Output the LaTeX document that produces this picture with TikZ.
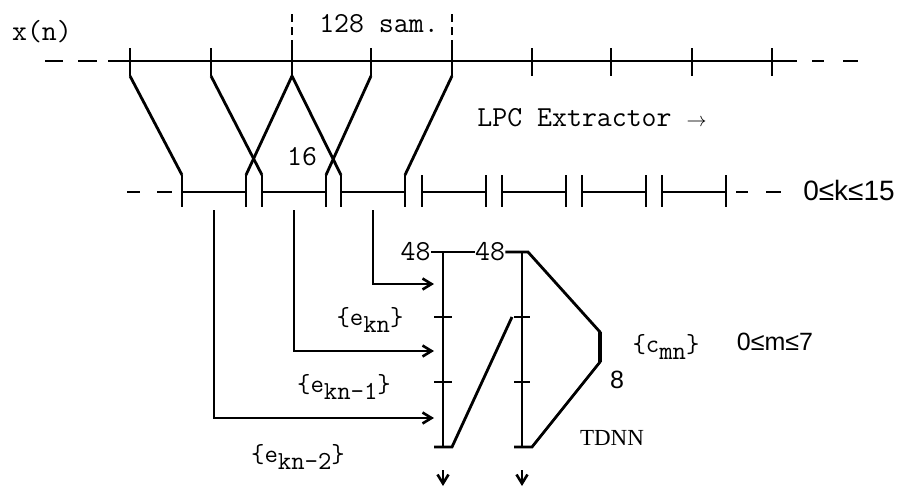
\documentclass[tikz,border=0pt]{standalone}
\usepackage{fontspec}
\setmainfont{Liberation Serif}
\setsansfont{Liberation Sans}
\usetikzlibrary{arrows.meta}

\begin{document}
\begin{tikzpicture}[x=0.5pt, y=-0.5pt,
      ln/.style={line width=1.4pt},
      arr/.style={-{Straight Barb[length=4.5pt, width=5.5pt]}, line width=1.3pt},
      lbl/.style={font=\ttfamily\fontsize{14.5}{16}\selectfont, inner sep=0pt},
      sublbl/.style={font=\ttfamily\fontsize{13}{15}\selectfont, inner sep=0pt},
      numlbl/.style={font=\sffamily\fontsize{12.5}{14}\selectfont, inner sep=0pt}
    ]
    \useasboundingbox (0,0) rectangle (912,487);

    % signal x(n) with its samples
    \draw[ln] (108,61) -- (797,61);
    \draw[ln] (45,61) -- (63,61) (78,61) -- (97,61);
    \draw[ln] (812,61) -- (824,61) (843,61) -- (858,61);
    \foreach \x [count=\i] in {130,211,292,371,452,532,611,692,772}{
      \coordinate (tt\i) at (\x,48);
      \coordinate (tb\i) at (\x,76);
      \draw[ln] (tt\i) -- (tb\i);
    }
    \coordinate (w1) at (292,12);
    \coordinate (w2) at (452,12);
    \draw[ln, dash pattern=on 4pt off 2.5pt] (tt3) -- (w1);
    \draw[ln, dash pattern=on 4pt off 2.5pt] (tt5) -- (w2);

    \node[lbl] (xn)  at (42,32)  {x(n)};
    \node[lbl] (sam) at (379,24) {128 sam.};

    % LPC frames
    \foreach \s [count=\i] in {182,262,341,422,502,582,662}{
      \coordinate (fl\i) at (\s,175);
      \coordinate (fr\i) at (\s+64,175);
      \coordinate (fm\i) at (\s+32,210);
      \draw[ln] (fl\i) -- (\s,207) (\s,192) -- (\s+64,192) (fr\i) -- (\s+64,207);
    }
    \draw[ln] (127,192) -- (140,192) (157,192) -- (172,192);
    \draw[ln] (736,192) -- (748,192) (766,192) -- (781,192);

    \draw[ln] (tb1) -- (fl1);
    \draw[ln] (tb2) -- (fl2);
    \draw[ln] (tb3) -- (fr1);
    \draw[ln] (tb3) -- (fl3);
    \draw[ln] (tb4) -- (fr2);
    \draw[ln] (tb5) -- (fr3);

    \node[lbl] (sixteen) at (302,157) {16};
    \node[lbl] (lpc)     at (592,118) {LPC Extractor $\scriptstyle\rightarrow$};
    \node[numlbl, font=\sffamily\fontsize{14}{16}\selectfont] (krange) at (849,190) {0≤k≤15};

    % TDNN
    \coordinate (c1t) at (443,252);
    \coordinate (c1b) at (443,447);
    \coordinate (c2t) at (522,252);
    \coordinate (c2b) at (522,447);
    \coordinate (ot)  at (600,332);
    \coordinate (ob)  at (600,362);
    \draw[ln] (c1t) -- (c1b);
    \draw[ln] (c2t) -- (c2b);
    \foreach \y in {317,382}{
      \draw[ln] (434,\y) -- (452,\y);
      \draw[ln] (514,\y) -- (530,\y);
    }
    \node[lbl, anchor=east] (n48a) at (431,252) {48};
    \node[lbl]              (n48b) at (490,252) {48};
    \draw[ln] (n48a.east) -- (n48b.west);
    \draw[ln] (n48b.east) -- (528,252) -- (ot) -- (ob) -- (532,447) -- (514,447);
    \draw[line width=2pt] (ot) -- (ob);
    \draw[ln] (434,447) -- (452,447) -- (512,317);

    \coordinate (in1) at (434,284);
    \coordinate (in2) at (434,351);
    \coordinate (in3) at (434,418);
    \draw[arr] (fm3) |- (in1);
    \draw[arr] (fm2) |- (in2);
    \draw[arr] (fm1) |- (in3);

    \node[sublbl] (ekn)  at (370,320) {\{e\raisebox{-0.6ex}{kn}\}};
    \node[sublbl] (ekn1) at (344,387) {\{e\raisebox{-0.6ex}{kn-1}\}};
    \node[sublbl] (ekn2) at (298,457) {\{e\raisebox{-0.6ex}{kn-2}\}};
    \node[sublbl] (cmn)  at (666,347) {\{c\raisebox{-0.6ex}{mn}\}};
    \node[numlbl] (eight)  at (617,380) {8};
    \node[numlbl] (mrange) at (775,342) {0≤m≤7};
    \node[font=\rmfamily\fontsize{11.5}{13}\selectfont, inner sep=0pt] (tdnn) at (612,438) {TDNN};

    \coordinate (d1) at (443,470);
    \coordinate (d1e) at (443,486);
    \coordinate (d2) at (522,470);
    \coordinate (d2e) at (522,486);
    \draw[arr] (d1) -- (d1e);
    \draw[arr] (d2) -- (d2e);
  \end{tikzpicture}
\end{document}
